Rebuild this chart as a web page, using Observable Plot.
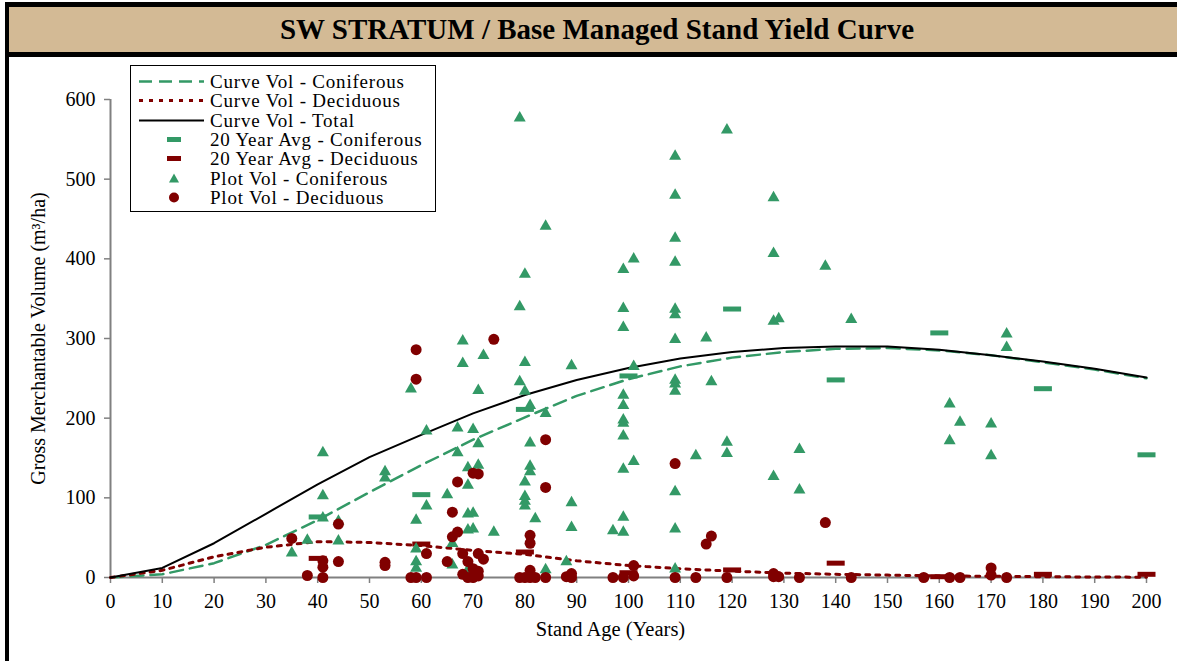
<!DOCTYPE html>
<html>
<head>
<meta charset="utf-8">
<script src="https://cdn.jsdelivr.net/npm/d3@7"></script>
<script src="https://cdn.jsdelivr.net/npm/@observablehq/plot@0.6"></script>
<style>
  html, body { margin:0; padding:0; background:#fff; overflow:hidden; width:1177px; height:661px; }
  body { font-family: "Liberation Serif", "Times New Roman", serif; }
  #frame { position:absolute; left:5px; top:2px; width:1176px; height:700px; border-left:4px solid #000; }
  #title { height:45px; border-top:5px solid #000; border-bottom:5px solid #000; background:#D3BA95;
           display:flex; align-items:center; justify-content:center; font-weight:bold; font-size:29px; color:#000; }
  #legend { position:absolute; left:130px; top:65px; width:306px; height:147px; box-sizing:border-box;
            border:1px solid #000; background:#fff; padding-top:6px; }
  .row { height:19.3px; display:flex; align-items:center; font-size:19px; letter-spacing:0.8px; line-height:19px; white-space:nowrap; }
  .row svg { width:79px; height:19px; flex:none; }
</style>
</head>
<body>
<div id="frame">
  <div id="title">SW STRATUM / Base Managed Stand Yield Curve</div>
  <div id="chart"></div>
</div>
<div id="legend"></div>
<script>
// ---- data ----
const curveAges  = [0,10,20,30,40,50,60,70,80,90,100,110,120,130,140,150,160,170,180,190,200];
const curveConif = [0,4,18,41,72,107,141,173,201,228,249,265,276,283,287,288,285,279,270,261,250];
const curveDecid = [0,9,26,38,45,44,40,34,29,21,15,11,8,5.5,4,3,2,1.5,1,0.6,0.4];
const curveTotal = [0,12,43,80,117,151,179,206,229,248,263,275,283,288,290,290,286,279,271,262,251];

const avgAges  = [40,60,80,100,120,140,160,180,200];
const avgConif = [76,104,211,253,337,248,307,237,154];
const avgDecid = [24,42,32,6,9.5,18,1,4,4];

const plotConifAges = [35,38,41,41,41,44,44,53,53,58,59,59,59,59,61,61,65,66,66,67,67,68,68,69,69,69,69,69,70,70,70,71,71,71,72,74,
  79,79,79,80,80,80,80,80,80,80,81,81,81,81,82,84,84,84,88,89,89,89,97,
  99,99,99,99,99,99,99,99,99,99,99,101,101,101,
  109,109,109,109,109,109,109,109,109,109,109,109,109,113,115,116,119,119,119,
  128,128,128,128,129,133,133,138,143,162,162,164,170,170,173,173];
const plotConifVols = [32,48,158,104,76,72,47,134,126,238,73,37,21,13,185,91,105,44,17,189,158,298,270,139,117,81,61,11,187,82,62,236,169,142,280,58,
  578,341,247,382,271,235,121,103,97,91,217,170,141,134,75,442,207,11,21,267,95,64,60,
  388,339,315,230,217,199,195,179,137,77,58,401,266,147,
  530,481,427,397,338,331,300,249,244,235,109,62,12,154,302,247,563,171,157,
  478,408,323,128,326,162,111,392,325,219,173,196,194,154,307,290];

const plotDecidAges = [35,38,41,41,41,44,44,53,53,58,59,59,59,61,61,65,66,66,67,67,68,68,69,69,70,70,70,71,71,71,71,72,74,
  79,80,81,81,81,81,82,84,84,84,88,89,89,97,99,101,101,109,109,113,115,116,119,
  128,128,129,133,138,143,157,162,164,170,170,173];
const plotDecidVols = [49,2.5,21,13,0,67,20,19,15,0,286,249,0,30,0,20,82,51,120,57,30,4,20,0,131,11,0,130,30,8,2,23,299,
  0,0,53,43,9,0,0,173,113,0,1,5,0,0,0,15,2,143,0,0,42,52,0,
  5,1,1,0,69,0,0,0,0,12,3,0];

const xTickValues = [0,10,20,30,40,50,60,70,80,90,100,110,120,130,140,150,160,170,180,190,200];
const yTickValues = [0,100,200,300,400,500,600];
const xTitle = "Stand Age (Years)";
const yTitle = "Gross Merchantable Volume (m³/ha)";

const GREEN = "#339966", DARKRED = "#800000", AXIS = "#808080";

// ---- tables built from the arrays ----
const curves = curveAges.map((a, i) => ({age: a, conif: curveConif[i], decid: curveDecid[i], total: curveTotal[i]}));
const avgs = avgAges.map((a, i) => ({age: a, conif: avgConif[i], decid: avgDecid[i]}));
const conifPts = plotConifAges.map((a, i) => ({age: a, vol: plotConifVols[i]}));
const decidPts = plotDecidAges.map((a, i) => ({age: a, vol: plotDecidVols[i]}));

const barSymbol = {draw(ctx) { ctx.rect(-9, -2.5, 18, 5); }};
const triSymbol = {draw(ctx) { ctx.moveTo(0, -6); ctx.lineTo(6, 4.5); ctx.lineTo(-6, 4.5); ctx.closePath(); }};

const chart = Plot.plot({
  width: 1168, height: 604,
  marginLeft: 101, marginRight: 31, marginTop: 42, marginBottom: 84,
  style: {fontFamily: "'Liberation Serif', 'Times New Roman', serif", fontSize: "20px", color: "#000", background: "#fff"},
  x: {domain: [0, 200]},
  y: {domain: [0, 600]},
  marks: [
    Plot.axisX({ticks: xTickValues, tickSize: 6, tickPadding: 10, stroke: AXIS, strokeWidth: 1.5, fill: "#000", label: null}),
    Plot.axisY({ticks: yTickValues, tickSize: 6, tickPadding: 9, stroke: AXIS, strokeWidth: 1.5, fill: "#000",
      label: yTitle, labelAnchor: "center", labelOffset: 80, labelArrow: "none"}),
    Plot.text([xTitle], {frameAnchor: "bottom", dx: -18, dy: 58, fill: "#000", fontSize: 20.5}),
    Plot.ruleY([0], {stroke: AXIS, strokeWidth: 2}),
    Plot.ruleX([0], {stroke: AXIS, strokeWidth: 2}),
    Plot.line(curves, {x: "age", y: "conif", stroke: GREEN, strokeWidth: 2.5, strokeDasharray: "13,7"}),
    Plot.line(curves, {x: "age", y: "decid", stroke: DARKRED, strokeWidth: 3, strokeDasharray: "4,6"}),
    Plot.line(curves, {x: "age", y: "total", stroke: "#000", strokeWidth: 2}),
    Plot.dot(avgs, {x: "age", y: "conif", symbol: barSymbol, r: 5, fill: GREEN, stroke: null}),
    Plot.dot(avgs, {x: "age", y: "decid", symbol: barSymbol, r: 5, fill: DARKRED, stroke: null}),
    Plot.dot(conifPts, {x: "age", y: "vol", symbol: triSymbol, r: 5, fill: GREEN, stroke: null}),
    Plot.dot(decidPts, {x: "age", y: "vol", r: 5.5, fill: DARKRED, stroke: null})
  ]
});
document.getElementById("chart").appendChild(chart);

// ---- legend ----
const legendItems = [
  {label: "Curve Vol - Coniferous", kind: "line", color: GREEN, dash: "13,7", w: 2.5},
  {label: "Curve Vol - Deciduous", kind: "line", color: DARKRED, dash: "4,6", w: 3},
  {label: "Curve Vol - Total", kind: "line", color: "#000", dash: null, w: 2},
  {label: "20 Year Avg - Coniferous", kind: "bar", color: GREEN},
  {label: "20 Year Avg - Deciduous", kind: "bar", color: DARKRED},
  {label: "Plot Vol - Coniferous", kind: "tri", color: GREEN},
  {label: "Plot Vol - Deciduous", kind: "dot", color: DARKRED}
];
const legend = d3.select("#legend");
for (const it of legendItems) {
  const row = legend.append("div").attr("class", "row");
  const svg = row.append("svg").attr("viewBox", "0 0 79 19");
  if (it.kind === "line") {
    svg.append("line").attr("x1", 8).attr("x2", 73).attr("y1", 9.5).attr("y2", 9.5)
      .attr("stroke", it.color).attr("stroke-width", it.w).attr("stroke-dasharray", it.dash);
  } else if (it.kind === "bar") {
    svg.append("rect").attr("x", 36).attr("y", 7).attr("width", 14).attr("height", 5).attr("fill", it.color);
  } else if (it.kind === "tri") {
    svg.append("path").attr("d", "M43,4.5L48,13.5L38,13.5Z").attr("fill", it.color);
  } else {
    svg.append("circle").attr("cx", 43).attr("cy", 9.5).attr("r", 5).attr("fill", it.color);
  }
  row.append("span").text(it.label);
}
</script>
</body>
</html>
